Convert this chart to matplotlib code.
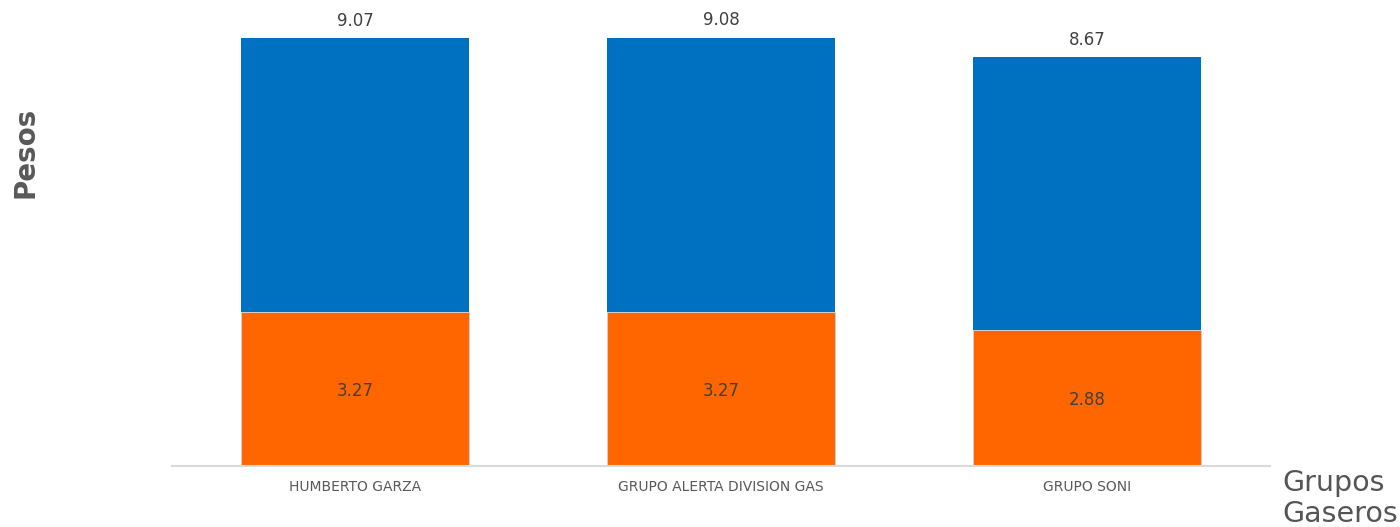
import matplotlib
matplotlib.use("Agg")
import matplotlib.pyplot as plt
import numpy as np

categories = ["HUMBERTO GARZA", "GRUPO ALERTA DIVISION GAS", "GRUPO SONI"]
orange_values = [3.27, 3.27, 2.88]
total_values = [9.07, 9.08, 8.67]
blue_values = [t - o for t, o in zip(total_values, orange_values)]

plt.rcParams['font.family'] = ['DejaVu Sans']

fig = plt.figure(figsize=(14, 5.27), dpi=100)
ax = fig.add_axes([172/1400, (527-466)/527, 1098/1400, 466/527])

x = np.arange(len(categories))
w = 228/366
ax.bar(x, orange_values, width=w, color="#FF6600", edgecolor="#d0d0d0", linewidth=0.6, zorder=2)
ax.bar(x, blue_values, width=w, bottom=orange_values, color="#0070C0", zorder=2)

for xi, o, t in zip(x, orange_values, total_values):
    ax.text(xi, o/2 - 0.05, f"{o:.2f}", ha="center", va="center", fontsize=12, color="#404040")
    ax.text(xi, t + 0.18, f"{t:.2f}", ha="center", va="bottom", fontsize=12, color="#404040")

ax.set_xlim(-0.5, 2.5)
ax.set_ylim(0, 466/47.15)
ax.set_xticks(x)
ax.set_xticklabels(categories, fontsize=10, color="#595959")
ax.tick_params(axis="x", length=0, pad=10)
ax.set_yticks([])
for s in ["top", "right", "left"]:
    ax.spines[s].set_visible(False)
ax.spines["bottom"].set_color("#d9d9d9")
ax.spines["bottom"].set_linewidth(1.5)

fig.text(26/1400, 1 - 152/527, "Pesos", rotation=90, ha="center", va="center",
         fontsize=20, fontweight="bold", color="#595959")
fig.text(1282/1400, 1 - 522/527, "Grupos\nGaseros", ha="left", va="baseline",
         fontsize=20.5, color="#555555", linespacing=1.12)

fig.savefig("out.png", dpi=100)
